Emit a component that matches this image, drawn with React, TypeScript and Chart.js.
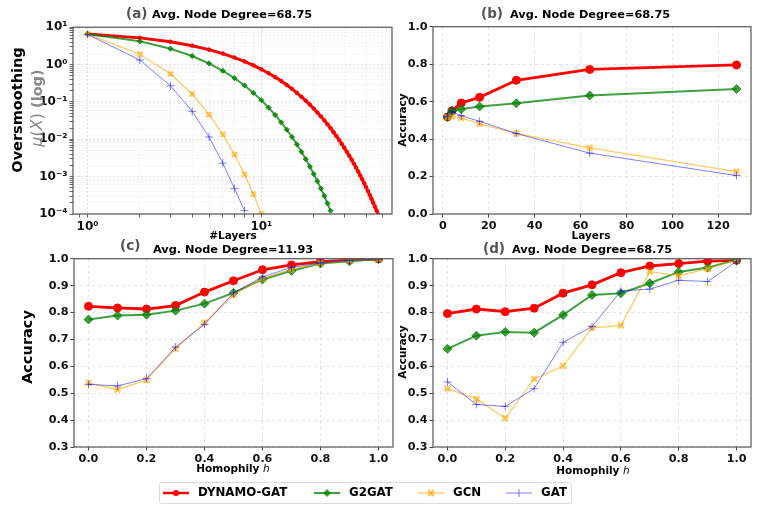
import { useEffect, useRef } from "react"
import { Chart, registerables } from "chart.js"

Chart.register(...registerables)

// (a) oversmoothing vs layers (log-log)
const layersA = [
  1, 2, 3, 4, 5, 6, 7, 8, 9, 10, 11, 12, 13, 14, 15, 16, 17, 18, 19, 20, 21, 22, 23, 24,
  25, 26, 27, 28, 29, 30, 31, 32, 33, 34, 35, 36, 37, 38, 39, 40, 41, 42, 43, 44, 45, 46, 47,
]
const dynamoA = [
  6.6, 5.18, 4.07, 3.19, 2.51, 1.97, 1.54, 1.21, 0.952, 0.747,
  0.587, 0.461, 0.362, 0.284, 0.223, 0.175, 0.137, 0.108, 0.0846, 0.0664,
  0.0521, 0.0409, 0.0321, 0.0252, 0.0198, 0.0155, 0.0122, 0.00958, 0.00752, 0.0059,
  0.00463, 0.00364, 0.00286, 0.00224, 0.00176, 0.00138, 0.00108, 0.000851, 0.000668, 0.000524,
  0.000412, 0.000323, 0.000254, 0.000199, 0.000156, 0.000123, 0.0000964,
]
const g2gatA = [
  6.6, 4.19, 2.66, 1.69, 1.07, 0.681, 0.433, 0.275, 0.174, 0.111,
  0.0704, 0.0447, 0.0284, 0.018, 0.0115, 0.00728, 0.00462, 0.00294, 0.00186, 0.00118,
  0.000752, 0.000478, 0.000303, 0.000193, 0.000122,
]
const gcnA = [6.5, 1.89, 0.56, 0.163, 0.046, 0.0135, 0.0039, 0.00115, 0.00034, 0.0001]
const gatA = [6.4, 1.32, 0.27, 0.056, 0.0115, 0.0023, 0.00048, 0.000123]

// (b) accuracy vs layers
const layersB = [2, 4, 8, 16, 32, 64, 128]
const layerTicksB = [0, 20, 40, 60, 80, 100, 120]
const accTicksB = [0, 0.2, 0.4, 0.6, 0.8, 1.0]
const dynamoB = [0.518, 0.551, 0.593, 0.623, 0.714, 0.772, 0.796]
const g2gatB = [0.518, 0.55, 0.56, 0.574, 0.591, 0.633, 0.667]
const gcnB = [0.516, 0.521, 0.513, 0.481, 0.43, 0.353, 0.226]
const gatB = [0.52, 0.545, 0.525, 0.495, 0.43, 0.325, 0.205]

// (c), (d) accuracy vs homophily
const homophily = [0, 0.1, 0.2, 0.3, 0.4, 0.5, 0.6, 0.7, 0.8, 0.9, 1.0]
const homophilyTicks = [0, 0.2, 0.4, 0.6, 0.8, 1.0]
const accTicksCD = [0.3, 0.4, 0.5, 0.6, 0.7, 0.8, 0.9, 1.0]
const dynamoC = [0.823, 0.817, 0.813, 0.826, 0.876, 0.918, 0.959, 0.977, 0.989, 0.995, 0.999]
const g2gatC = [0.774, 0.789, 0.792, 0.807, 0.833, 0.873, 0.923, 0.955, 0.982, 0.991, 0.999]
const gcnC = [0.538, 0.513, 0.549, 0.665, 0.762, 0.865, 0.926, 0.96, 0.983, 0.993, 0.999]
const gatC = [0.533, 0.527, 0.554, 0.671, 0.756, 0.873, 0.932, 0.968, 0.984, 0.994, 0.999]
const dynamoD = [0.796, 0.813, 0.803, 0.816, 0.872, 0.903, 0.948, 0.973, 0.982, 0.991, 0.994]
const g2gatD = [0.665, 0.714, 0.728, 0.725, 0.791, 0.865, 0.872, 0.909, 0.951, 0.967, 0.996]
const gcnD = [0.517, 0.479, 0.407, 0.553, 0.601, 0.743, 0.752, 0.952, 0.937, 0.962, 0.996]
const gatD = [0.542, 0.458, 0.451, 0.517, 0.689, 0.748, 0.88, 0.887, 0.92, 0.915, 0.99]

const FONT = "'DejaVu Sans', sans-serif"
const RED = "rgb(255, 0, 0)"
const GREEN = "rgba(0, 128, 0, 0.75)"
const ORANGE = "rgba(255, 165, 0, 0.6)"
const BLUE = "rgba(0, 0, 255, 0.5)"
const TICK_FONT = { family: FONT, size: 11.2, weight: "bold" as const }

const SUP: Record<string, string> = {
  "-": "⁻", "0": "⁰", "1": "¹", "2": "²", "3": "³", "4": "⁴", "5": "⁵", "6": "⁶", "7": "⁷", "8": "⁸", "9": "⁹",
}

const isMajor = (v: number) => Math.abs(Math.log10(v) - Math.round(Math.log10(v))) < 1e-6
const isIntSig = (v: number) => {
  const e = Math.floor(Math.log10(v) + 1e-9)
  const s = v / Math.pow(10, e)
  return Math.abs(s - Math.round(s)) < 1e-6
}
const powLabel = (v: number) =>
  "10" + String(Math.round(Math.log10(v))).split("").map((c) => SUP[c]).join("")

// draws the full box around the plot area
const framePlugin = {
  id: "frame",
  afterDatasetsDraw(chart: any) {
    const { ctx, chartArea: a } = chart
    ctx.save()
    ctx.strokeStyle = "#555"
    ctx.lineWidth = 1.2
    ctx.strokeRect(a.left, a.top, a.right - a.left, a.bottom - a.top)
    ctx.restore()
  },
}

type Style = { label: string; color: string; width: number; point: string; r: number; pbw: number; order: number }

function styles(small: boolean): Style[] {
  return [
    { label: "DYNAMO-GAT", color: RED, width: small ? 3 : 2.8, point: "circle", r: small ? 1.8 : 4, pbw: 1, order: 3 },
    { label: "G2GAT", color: GREEN, width: 2, point: "rectRot", r: small ? 2.6 : 4.5, pbw: 1, order: 2 },
    { label: "GCN", color: ORANGE, width: 1.3, point: "crossRot", r: small ? 3.5 : 4, pbw: 2.5, order: 1 },
    { label: "GAT", color: BLUE, width: 1, point: "cross", r: 4, pbw: 1, order: 0 },
  ]
}

function series(xs: number[], ys: number[], s: Style) {
  return {
    label: s.label,
    data: ys.map((y, i) => ({ x: xs[i], y })),
    borderColor: s.color,
    backgroundColor: s.color,
    borderWidth: s.width,
    pointStyle: s.point,
    pointRadius: s.r,
    pointBorderWidth: s.pbw,
    pointBackgroundColor: s.color,
    pointBorderColor: s.color,
    order: s.order,
    tension: 0,
  }
}

function linAxis(min: number, max: number, ticks: number[], digits: number) {
  return {
    type: "linear",
    min,
    max,
    afterBuildTicks: (s: any) => {
      s.ticks = ticks.map((v) => ({ value: v }))
    },
    ticks: {
      autoSkip: false,
      maxRotation: 0,
      padding: 2,
      color: "#111",
      font: TICK_FONT,
      callback: (v: any) => Number(v).toFixed(digits),
    },
    grid: { color: "rgba(0,0,0,0.13)", lineWidth: 0.8, tickColor: "#444", tickLength: 3.5, tickWidth: 1 },
    border: { display: false, dash: [3, 3] },
  }
}

function logAxis(min: number, max: number) {
  return {
    type: "logarithmic",
    min,
    max,
    afterBuildTicks: (s: any) => {
      s.ticks = s.ticks.filter((t: any) => isIntSig(t.value))
    },
    ticks: {
      autoSkip: false,
      maxRotation: 0,
      padding: 2,
      color: "#111",
      font: { ...TICK_FONT, size: 12 },
      callback: (v: any) => (isMajor(Number(v)) ? powLabel(Number(v)) : ""),
    },
    grid: {
      color: (c: any) => (isMajor(c.tick.value) ? "rgba(0,0,0,0.16)" : "rgba(0,0,0,0.08)"),
      tickColor: "#444",
      lineWidth: 0.8,
      tickLength: 3.5,
    },
    border: { display: false, dash: [2, 2] },
  }
}

type Fit = { yW: number; xH: number; pt: number; pr: number }

function makeConfig(datasets: any[], x: any, y: any, fit: Fit): any {
  return {
    type: "line",
    data: { datasets },
    options: {
      responsive: true,
      maintainAspectRatio: false,
      animation: false,
      layout: { autoPadding: false, padding: { top: fit.pt, right: fit.pr, left: 0, bottom: 0 } },
      plugins: { legend: { display: false }, tooltip: { enabled: false } },
      scales: {
        x: { ...x, position: "bottom", afterFit: (s: any) => { s.height = fit.xH } },
        y: { ...y, position: "left", afterFit: (s: any) => { s.width = fit.yW } },
      },
    },
    plugins: [framePlugin],
  }
}

function build(xs: number[], ys: number[][], small: boolean) {
  const st = styles(small)
  return ys.map((y, i) => series(xs, y, st[i]))
}

const configA = makeConfig(
  [
    ...build(layersA, [dynamoA, g2gatA], true),
    series(layersA, gcnA, styles(true)[2]),
    series(layersA, gatA, styles(true)[3]),
  ],
  logAxis(0.825, 56.4),
  logAxis(0.0001, 10),
  { yW: 73, xH: 16, pt: 6, pr: 8 },
)
const configB = makeConfig(
  build(layersB, [dynamoB, g2gatB, gcnB, gatB], false),
  linAxis(-4.3, 134.3, layerTicksB, 0),
  linAxis(0, 1, accTicksB, 1),
  { yW: 53, xH: 16, pt: 6, pr: 9 },
)
const configC = makeConfig(
  build(homophily, [dynamoC, g2gatC, gcnC, gatC], false),
  linAxis(-0.05, 1.05, homophilyTicks, 1),
  linAxis(0.3, 1, accTicksCD, 1),
  { yW: 74, xH: 15, pt: 7, pr: 7 },
)
const configD = makeConfig(
  build(homophily, [dynamoD, g2gatD, gcnD, gatD], false),
  linAxis(-0.05, 1.05, homophilyTicks, 1),
  linAxis(0.3, 1, accTicksCD, 1),
  { yW: 53, xH: 15, pt: 7, pr: 9 },
)

function Panel({ left, top, width, height, config }: { left: number; top: number; width: number; height: number; config: any }) {
  const ref = useRef<HTMLCanvasElement>(null)
  useEffect(() => {
    if (!ref.current) return
    const chart = new Chart(ref.current, config)
    return () => chart.destroy()
  }, [config])
  return (
    <div style={{ position: "absolute", left, top, width, height }}>
      <canvas ref={ref} />
    </div>
  )
}

function Text({ x, y, size, children, color = "#000", weight = "bold", rotate = false, anchor = "center" }: any) {
  const tx = anchor === "left" ? "0" : "-50%"
  return (
    <div
      style={{
        position: "absolute",
        left: x,
        top: y,
        transform: `translate(${tx}, -50%)` + (rotate ? " rotate(-90deg)" : ""),
        fontFamily: FONT,
        fontSize: size,
        fontWeight: weight,
        color,
        whiteSpace: "nowrap",
        lineHeight: 1,
      }}
    >
      {children}
    </div>
  )
}

function PanelTitle({ tag, tagX, tagY, text, textX, textY }: any) {
  return (
    <>
      <Text x={tagX} y={tagY} size={13.5} color="#555" anchor="left">{tag}</Text>
      <Text x={textX} y={textY} size={11.3} anchor="left">{text}</Text>
    </>
  )
}

function LegendIcon({ kind }: { kind: number }) {
  return (
    <svg width={28} height={12} style={{ position: "absolute", left: 0, top: -6 }}>
      {kind === 0 && (
        <>
          <line x1={1} y1={6} x2={27} y2={6} stroke={RED} strokeWidth={2.5} />
          <circle cx={14} cy={6} r={3} fill={RED} />
        </>
      )}
      {kind === 1 && (
        <>
          <line x1={1} y1={6} x2={27} y2={6} stroke={GREEN} strokeWidth={2} />
          <polygon points="14,2 18,6 14,10 10,6" fill={GREEN} />
        </>
      )}
      {kind === 2 && (
        <>
          <line x1={1} y1={6} x2={27} y2={6} stroke={ORANGE} strokeWidth={1.3} />
          <line x1={11} y1={3} x2={17} y2={9} stroke={ORANGE} strokeWidth={2.5} />
          <line x1={17} y1={3} x2={11} y2={9} stroke={ORANGE} strokeWidth={2.5} />
        </>
      )}
      {kind === 3 && (
        <>
          <line x1={1} y1={6} x2={27} y2={6} stroke={BLUE} strokeWidth={1} />
          <line x1={14} y1={2} x2={14} y2={10} stroke={BLUE} strokeWidth={1} />
        </>
      )}
    </svg>
  )
}

const legendItems = [
  { label: "DYNAMO-GAT", iconX: 162, textX: 198 },
  { label: "G2GAT", iconX: 313, textX: 349 },
  { label: "GCN", iconX: 417, textX: 453 },
  { label: "GAT", iconX: 505, textX: 541 },
]

const mathStyle = { fontWeight: "normal", fontStyle: "italic", fontSize: 16 }

export default function App() {
  return (
    <div style={{ position: "absolute", left: 0, top: 0, width: 761, height: 510, background: "#fff", overflow: "hidden" }}>
      <Panel left={0} top={18} width={400} height={212} config={configA} />
      <Panel left={380} top={18} width={380} height={212} config={configB} />
      <Panel left={0} top={250} width={400} height={212} config={configC} />
      <Panel left={380} top={250} width={380} height={212} config={configD} />

      <PanelTitle tag="(a)" tagX={126} tagY={14} text="Avg. Node Degree=68.75" textX={152} textY={15} />
      <PanelTitle tag="(b)" tagX={481} tagY={14} text="Avg. Node Degree=68.75" textX={510} textY={15} />
      <PanelTitle tag="(c)" tagX={120} tagY={246} text="Avg. Node Degree=11.93" textX={153} textY={250} />
      <PanelTitle tag="(d)" tagX={483} tagY={249} text="Avg. Node Degree=68.75" textX={512} textY={250} />

      <Text x={233} y={235} size={10.5}>#Layers</Text>
      <Text x={591} y={235} size={10.5}>Layers</Text>
      <Text x={233} y={468} size={10.5}>
        Homophily <i style={{ fontWeight: "normal" }}>h</i>
      </Text>
      <Text x={593} y={470} size={10.5}>
        Homophily <i style={{ fontWeight: "normal" }}>h</i>
      </Text>

      <Text x={17} y={110} size={14.5} rotate>Oversmoothing</Text>
      <Text x={37} y={108} size={14.5} rotate color="#888">
        <span style={mathStyle}>μ</span>
        <span style={{ fontWeight: "normal", fontSize: 16 }}>(</span>
        <span style={mathStyle}>X</span>
        <span style={{ fontWeight: "normal", fontSize: 16 }}>)</span> (log)
      </Text>
      <Text x={402} y={120} size={10.5} rotate>Accuracy</Text>
      <Text x={27} y={347} size={14.5} rotate>Accuracy</Text>
      <Text x={402} y={352} size={10.5} rotate>Accuracy</Text>

      <div
        style={{
          position: "absolute",
          left: 159,
          top: 482,
          width: 413,
          height: 22,
          border: "1px solid #ddd",
          borderRadius: 3,
          boxSizing: "border-box",
        }}
      />
      {legendItems.map((it, i) => (
        <div key={it.label}>
          <div style={{ position: "absolute", left: it.iconX, top: 493 }}>
            <LegendIcon kind={i} />
          </div>
          <Text x={it.textX} y={493} size={11.8} anchor="left">{it.label}</Text>
        </div>
      ))}
    </div>
  )
}
